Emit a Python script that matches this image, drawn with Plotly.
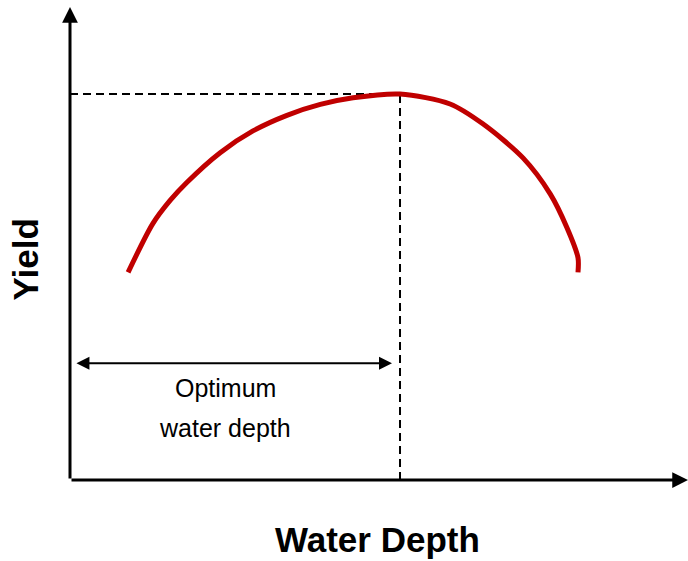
import plotly.graph_objects as go

# Data (arbitrary units)
water_depth = [0.94, 1.34, 1.62, 1.89, 2.43, 2.96, 3.51, 4.05, 4.58, 5.34,
               6.15, 6.68, 7.33, 7.77, 8.04, 8.22, 8.22]
yield_vals = [4.39, 5.42, 5.91, 6.29, 6.92, 7.38, 7.71, 7.94, 8.08, 8.16,
              7.95, 7.53, 6.81, 6.05, 5.34, 4.70, 4.39]

x_title = "Water Depth"
y_title = "Yield"
label_lines = ["Optimum", "water depth"]

i_opt = yield_vals.index(max(yield_vals))
x_opt = water_depth[i_opt]
y_opt = yield_vals[i_opt]

fig = go.Figure()

# dashed guide lines
fig.add_trace(go.Scatter(x=[0, x_opt], y=[y_opt, y_opt], mode="lines",
                         line=dict(color="black", width=2, dash="8px,5px"),
                         hoverinfo="skip", showlegend=False))
fig.add_trace(go.Scatter(x=[x_opt, x_opt], y=[0, y_opt], mode="lines",
                         line=dict(color="black", width=2, dash="8px,5px"),
                         hoverinfo="skip", showlegend=False))

# yield curve
fig.add_trace(go.Scatter(x=water_depth, y=yield_vals, mode="lines",
                         line=dict(color="#C00000", width=5, shape="spline", smoothing=0.8),
                         showlegend=False))

annotations = [
    # axes with arrows
    dict(x=10, y=0, ax=0, ay=0, xref="x", yref="y", axref="x", ayref="y",
         showarrow=True, arrowhead=2, arrowsize=1.05, arrowwidth=3, arrowcolor="black", text=""),
    dict(x=0, y=10, ax=0, ay=0, xref="x", yref="y", axref="x", ayref="y",
         showarrow=True, arrowhead=2, arrowsize=1.05, arrowwidth=3, arrowcolor="black", text=""),
    # double-headed arrow for optimum depth
    dict(x=x_opt - 0.13, y=2.47, ax=0.08, ay=2.47, xref="x", yref="y", axref="x", ayref="y",
         showarrow=True, arrowhead=2, startarrowhead=2, arrowside="end+start",
         arrowsize=1.3, startarrowsize=1.3, arrowwidth=2, arrowcolor="black", text=""),
    dict(x=2.51, y=1.94, xref="x", yref="y", text=label_lines[0], showarrow=False,
         xanchor="center", yanchor="middle",
         font=dict(family="Liberation Sans, Arial", size=25, color="black")),
    dict(x=2.51, y=1.10, xref="x", yref="y", text=label_lines[1], showarrow=False,
         xanchor="center", yanchor="middle",
         font=dict(family="Liberation Sans, Arial", size=25, color="black")),
    # axis titles
    dict(x=-0.0712, y=0.466, xref="paper", yref="paper", text="<b>" + y_title + "</b>",
         textangle=-90, showarrow=False, xanchor="center", yanchor="middle",
         font=dict(family="Liberation Sans, Arial", size=35, color="black")),
    dict(x=0.498, y=-0.1266, xref="paper", yref="paper", text="<b>" + x_title + "</b>",
         showarrow=False, xanchor="center", yanchor="middle",
         font=dict(family="Liberation Sans, Arial", size=35, color="black")),
]

fig.update_layout(
    width=688, height=561,
    margin=dict(l=70, r=0, t=7, b=81),
    paper_bgcolor="white", plot_bgcolor="white",
    xaxis=dict(range=[0, 10], visible=False, fixedrange=True),
    yaxis=dict(range=[0, 10], visible=False, fixedrange=True),
    annotations=annotations,
    showlegend=False,
)

fig.write_html("out.html", config={"displayModeBar": False},
               post_script="document.body.style.margin='0';document.body.style.overflow='hidden';")
